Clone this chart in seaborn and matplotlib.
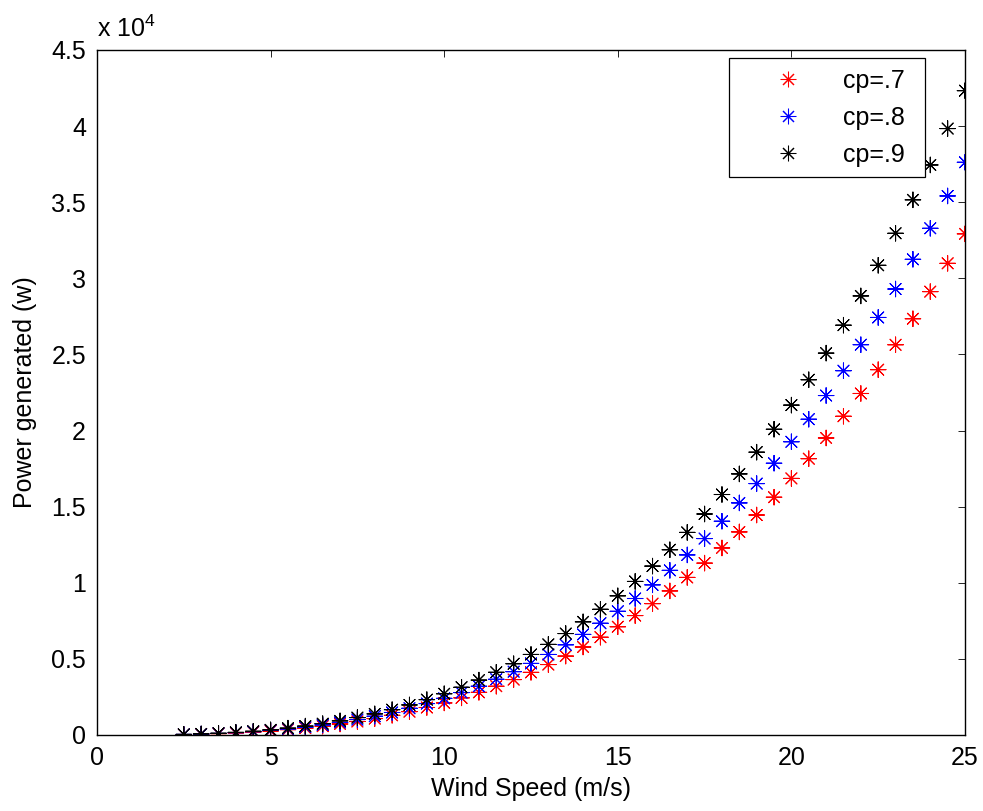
import matplotlib
matplotlib.use("Agg")
import matplotlib.pyplot as plt
import matplotlib.ticker as mticker
import numpy as np
import pandas as pd
import seaborn as sns

# ---- data ----
wind_speed = [2.5, 3, 3.5, 4, 4.5, 5, 5.5, 6, 6.5, 7, 7.5, 8, 8.5, 9, 9.5, 10,
              10.5, 11, 11.5, 12, 12.5, 13, 13.5, 14, 14.5, 15, 15.5, 16, 16.5,
              17, 17.5, 18, 18.5, 19, 19.5, 20, 20.5, 21, 21.5, 22, 22.5, 23,
              23.5, 24, 24.5, 25]
power_cp07 = [33, 57, 90, 135, 192, 263, 351, 455, 579, 723, 889, 1079, 1294,
              1536, 1807, 2107, 2439, 2804, 3205, 3641, 4115, 4629, 5184, 5782,
              6424, 7111, 7846, 8630, 9465, 10352, 11292, 12288, 13341, 14452,
              15623, 16856, 18152, 19513, 20940, 22435, 24000, 25636, 27344,
              29127, 30986, 32922]
power_cp08 = [38, 65, 103, 154, 219, 301, 401, 520, 661, 826, 1016, 1233, 1479,
              1755, 2065, 2408, 2788, 3205, 3662, 4161, 4703, 5290, 5925, 6608,
              7341, 8127, 8967, 9863, 10817, 11831, 12905, 14044, 15247, 16516,
              17855, 19264, 20745, 22301, 23932, 25640, 27429, 29298, 31251,
              33288, 35412, 37625]
power_cp09 = [42, 73, 116, 173, 247, 339, 451, 585, 744, 929, 1143, 1387, 1664,
              1975, 2323, 2709, 3136, 3606, 4120, 4681, 5291, 5952, 6665, 7434,
              8259, 9143, 10088, 11096, 12169, 13309, 14519, 15799, 17152, 18581,
              20087, 21672, 23338, 25088, 26923, 28845, 30857, 32960, 35157,
              37449, 39839, 42328]
series_labels = ["cp=.7", "cp=.8", "cp=.9"]
series_colors = ["#ff0000", "#0000ff", "#000000"]
x_ticks = [0, 5, 10, 15, 20, 25]
y_ticks = [0, 5000, 10000, 15000, 20000, 25000, 30000, 35000, 40000, 45000]

df = pd.DataFrame({
    "Wind Speed (m/s)": wind_speed * 3,
    "Power generated (w)": power_cp07 + power_cp08 + power_cp09,
    "series": [series_labels[0]] * len(wind_speed)
              + [series_labels[1]] * len(wind_speed)
              + [series_labels[2]] * len(wind_speed),
})

sns.set_theme(style="white")
plt.rcParams["font.family"] = ["Liberation Sans", "DejaVu Sans"]
plt.rcParams["mathtext.default"] = "regular"
for k in ["text.color", "axes.labelcolor", "xtick.color", "ytick.color",
          "xtick.labelcolor", "ytick.labelcolor"]:
    plt.rcParams[k] = "black"
FS = 18

fig = plt.figure(figsize=(9.83, 8.11), dpi=100)
fig.patch.set_facecolor("white")
ax = fig.add_axes([97 / 983, 1 - 735 / 811, (965 - 97) / 983, (735 - 50) / 811])

asterisk = (8, 2, 0)
sns.scatterplot(data=df, x="Wind Speed (m/s)", y="Power generated (w)",
                hue="series", palette=dict(zip(series_labels, series_colors)),
                marker=asterisk, s=125, linewidth=0.75, ax=ax, legend=True)

ax.set_xlim(0, 25)
ax.set_ylim(0, 45000)
ax.set_xticks(x_ticks)
ax.set_yticks(y_ticks)
ax.yaxis.set_major_formatter(mticker.FuncFormatter(lambda v, p: f"{v / 1e4:g}"))
ax.tick_params(direction="in", length=5, width=0.6, top=True, right=True,
               labelsize=FS, color="black", labelcolor="black", pad=8)
for sp in ax.spines.values():
    sp.set_color("black")
    sp.set_linewidth(1.0)
    sp.set_visible(True)

ax.set_xlabel("Wind Speed (m/s)", fontsize=FS, labelpad=5, color="black")
ax.set_ylabel("Power generated (w)", fontsize=FS, labelpad=10, color="black")
ax.text(0.0, 1.012, r"x 10$^{4}$", transform=ax.transAxes, fontsize=FS,
        ha="left", va="bottom", color="black")

handles, labels = ax.get_legend_handles_labels()
x0 = (729 - 97) / 868
w = (925 - 729) / 868
ytop = (735 - 58) / 685
leg = ax.legend(handles, labels, loc="upper left",
                bbox_to_anchor=(x0, ytop - 0.2, w, 0.2), mode="expand",
                fontsize=FS, frameon=True, fancybox=False, edgecolor="black",
                framealpha=1, borderpad=0.42, handlelength=3.88,
                handletextpad=0.26, labelspacing=0.52, borderaxespad=0)
leg.get_frame().set_linewidth(0.9)
for t in leg.get_texts():
    t.set_color("black")

fig.savefig("out.png", dpi=100, facecolor="white")
